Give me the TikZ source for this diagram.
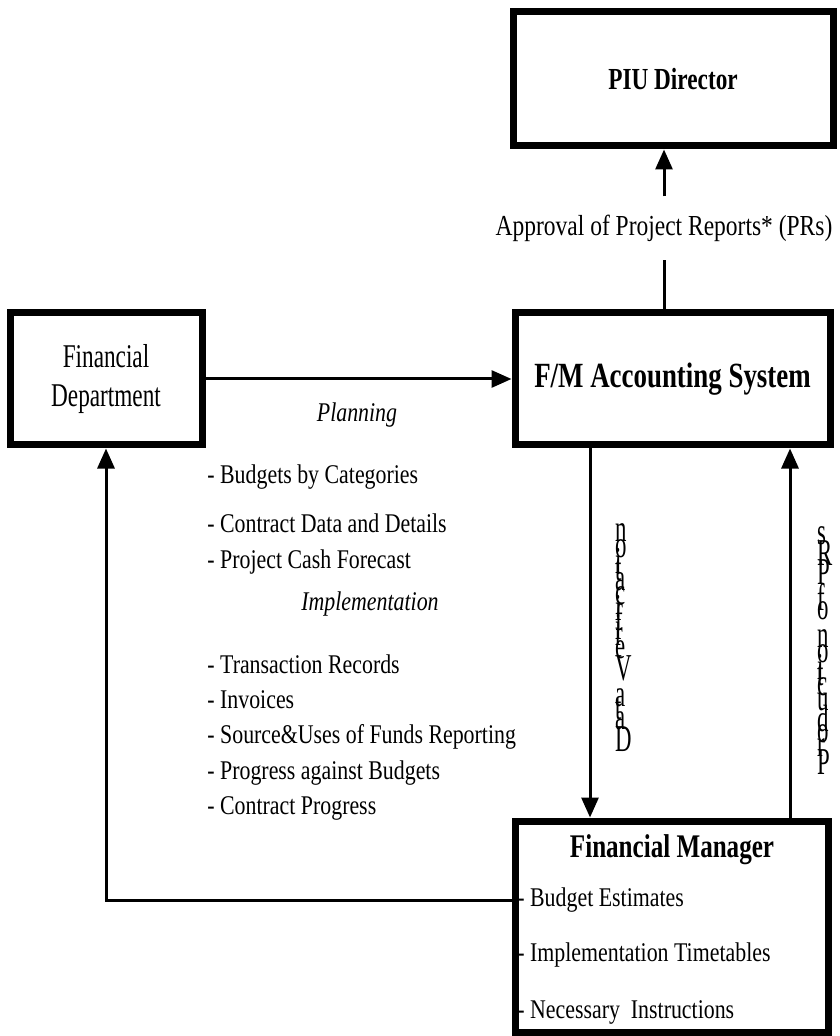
\documentclass[tikz,border=0pt]{standalone}
\usepackage{fontspec}
\setmainfont{Liberation Serif}
\newfontfamily\listfont{Liberation Serif}[FakeStretch=0.81]
\newfontfamily\deptfont{Liberation Serif}[FakeStretch=0.7]
\newfontfamily\headfont{Liberation Serif}[FakeStretch=0.76]
\newfontfamily\vertfont{Liberation Serif}[FakeStretch=0.6]
\usetikzlibrary{arrows.meta}

% upright letters stacked along a turned line
\newlength\vletw
\newcommand\upletter[1]{\settowidth\vletw{#1}\makebox[\vletw]{\rotatebox{-90}{\vertfont\fontsize{19}{19}\selectfont #1}}}
\newcommand\vtext[1]{\vtextloop#1\relax}
\def\vtextloop#1{\ifx#1\relax\else\upletter{#1}\expandafter\vtextloop\fi}

\tikzset{
  box/.style={draw, line width=3.5pt, inner sep=0pt},
  link/.style={line width=1.5pt},
  item/.style={anchor=west, inner sep=0pt, font=\listfont\fontsize{13.5}{15}\selectfont},
  head/.style={font=\headfont\bfseries\fontsize{#1}{#1}\selectfont},
  turned/.style={rotate=90, inner sep=0pt, font=\fontsize{16}{16}\selectfont},
}

\begin{document}
\begin{tikzpicture}[x=0.5pt, y=-0.5pt, >={Triangle[length=10pt,width=8.5pt]}]
  \useasboundingbox (0,0) rectangle (839,1036);

  % boxes
  \node[box, head=15.3, minimum width=160pt, minimum height=67pt] (piu) at (673,79) {PIU Director};
  \node[box, head=17.7, minimum width=157.5pt, minimum height=66pt] (fma) at (672.5,379) {F/M Accounting System};
  \node[box, align=center, minimum width=96pt, minimum height=66pt,
        font=\deptfont\fontsize{16.6}{19.5}\selectfont] (fdep) at (106,379) {Financial\\Department};
  \node[box, minimum width=156.5pt, minimum height=105.5pt] (fmgr) at (671.5,926.5) {};
  \node[head=16.5] (fmgrt) at (672,850) {Financial Manager};
  \node[item] (est) at (517,900) {- Budget Estimates};
  \node[item] (tim) at (517,955) {- Implementation Timetables};
  \node[item] (ins) at (517,1012) {- Necessary\ \ Instructions};

  % planning and implementation lists
  \node[item, anchor=center, font=\listfont\itshape\fontsize{13.5}{15}\selectfont] (plan) at (357,415) {Planning};
  \node[item] (bud) at (207,477) {- Budgets by Categories};
  \node[item] (con) at (207,523) {- Contract Data and Details};
  \node[item] (cash) at (207,562) {- Project Cash Forecast};
  \node[item, anchor=center, font=\listfont\itshape\fontsize{13.5}{15}\selectfont] (impl) at (370,604) {Implementation};
  \node[item] (trn) at (207,664) {- Transaction Records};
  \node[item] (inv) at (207,700) {- Invoices};
  \node[item] (src) at (207,737) {- Source\&Uses of Funds Reporting};
  \node[item] (prg) at (207,773) {- Progress against Budgets};
  \node[item] (cpr) at (207,808) {- Contract Progress};

  % labels on the links
  \node[inner xsep=0pt, inner ysep=9pt, font=\listfont\fontsize{14.5}{15}\selectfont] (appr) at (664,228) {Approval of Project Reports* (PRs)};
  \node[turned] (dver) at (624,638) {\vtext{Data}\hspace{0.35em}\vtext{Verification}};
  \node[turned] (prod) at (825,650) {\vtext{Production}\hspace{0.35em}\vtext{of}\hspace{0.35em}\vtext{PRs}};

  \coordinate (dn) at (590,600);
  \coordinate (upr) at (790,600);

  % links
  \draw[link] (fma.north -| appr) -- (appr.south);
  \draw[link,->] (appr.north) -- (piu.south -| appr);
  \draw[link,->] (fdep) -- (fma);
  \draw[link,->] (fma.south -| dn) -- (fmgr.north -| dn);
  \draw[link,->] (fmgr.north -| upr) -- (fma.south -| upr);
  \draw[link,->] (fmgr.west |- est) -| (fdep.south);
\end{tikzpicture}
\end{document}
